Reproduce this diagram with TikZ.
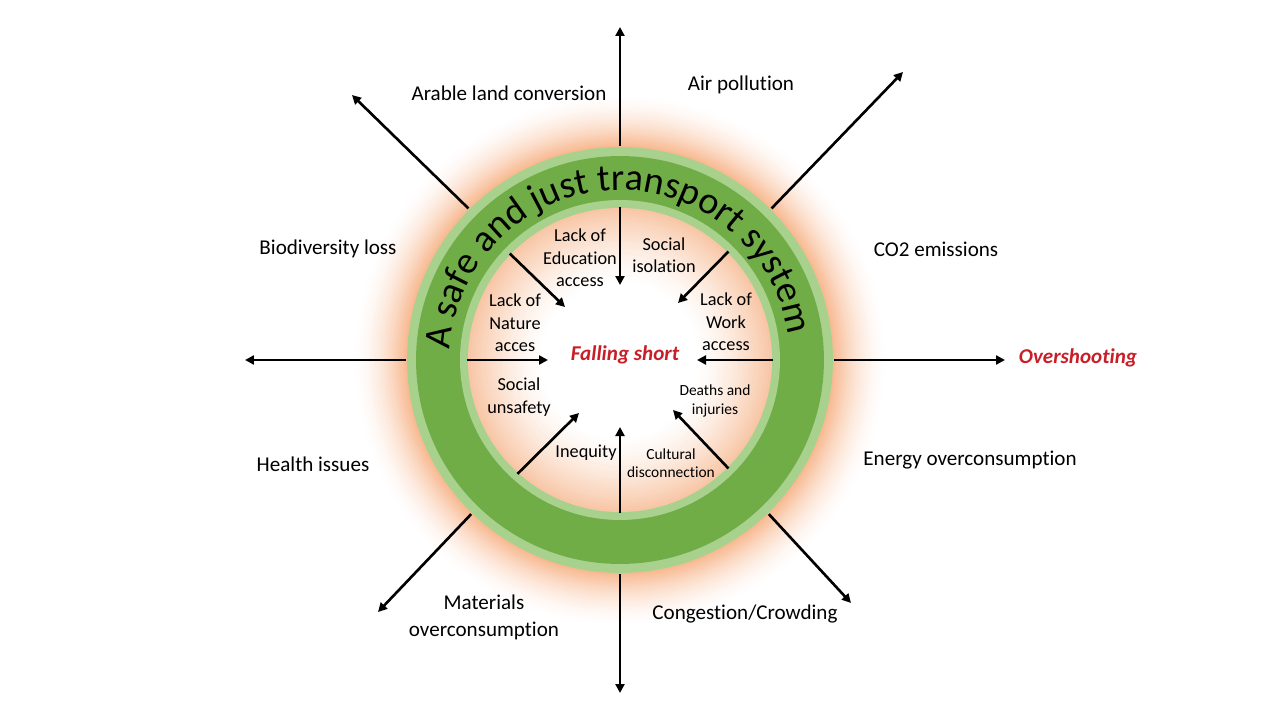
\documentclass[tikz,border=0pt]{standalone}
\usepackage{fontspec}
\setmainfont{Carlito}[Ligatures=NoCommon]
\usepackage{xcolor}
\usepackage{tikz}
\usetikzlibrary{arrows.meta,decorations.text}
\definecolor{ringdark}{RGB}{112,173,71}
\definecolor{ringlight}{RGB}{169,209,142}
\definecolor{glow}{RGB}{248,186,146}
\definecolor{disc}{RGB}{248,198,166}
\definecolor{shortred}{RGB}{200,30,40}

\begin{document}
\begin{tikzpicture}[x=0.02cm, y=0.02cm, >={Triangle[length=1.8mm, width=1.8mm]}, line width=1.5pt,
  outl/.style={font=\fontsize{12}{15.4}\selectfont, align=center},
  inl/.style={font=\fontsize{10.4}{12.8}\selectfont, align=center},
  smalll/.style={font=\fontsize{8.8}{10.4}\selectfont, align=center},
  redl/.style={font=\fontsize{12}{14}\selectfont\bfseries\itshape, text=shortred},
  rim/.style={circle, inner sep=0pt}]
\useasboundingbox (-620,-360) rectangle (660,360);
%% glow round the ring
\foreach \k in {0,...,29}{
  \pgfmathsetmacro\rr{270-1.9*\k}
  \pgfmathtruncatemacro\pp{100*(\k/29)^1.8}
  \fill[glow!\pp!white] (0,0) circle[radius=\rr];
}
%% ring
\node[rim, fill=ringlight, minimum size=8.52cm] (ring) at (0,0) {};
\node[rim, fill=ringdark, minimum size=8.16cm] (band) at (0,0) {};
\node[rim, fill=ringlight, minimum size=6.4cm] (inner) at (0,0) {};
\foreach \k in {0,...,29}{
  \pgfmathsetmacro\rr{152-2.6*\k}
  \pgfmathtruncatemacro\pp{100*(1-\k/29)^1.4}
  \fill[disc!\pp!white] (0,0) circle[radius=\rr];
}
\node[rim, minimum size=6.08cm] (core) at (0,0) {};
\path[decorate, decoration={text along path, text align=center,
  text={|\fontsize{21.7}{24}\selectfont|A safe and just transport system}}]
  (185.5:170) arc[start angle=185.5, end angle=-0.5, radius=170];
%% outer arrows
\coordinate (tipN) at (0,333);
\coordinate (tipNE) at (283,288);
\coordinate (tipE) at (385,0);
\coordinate (tipSE) at (231,-243);
\coordinate (tipS) at (0,-333);
\coordinate (tipSW) at (-242,-252);
\coordinate (tipW) at (-375,0);
\coordinate (tipNW) at (-268,265);
\draw[->] (ring.90) -- (tipN);
\draw[->] (ring.45) -- (tipNE);
\draw[->] (ring.0) -- (tipE);
\draw[->] (ring.-46) -- (tipSE);
\draw[->] (ring.-90) -- (tipS);
\draw[->] (ring.-134) -- (tipSW);
\draw[->] (ring.180) -- (tipW);
\draw[->] (ring.135) -- (tipNW);
%% inner arrows
\coordinate (hubN) at (0,75);
\coordinate (hubNE) at (58,57);
\coordinate (hubE) at (77,0);
\coordinate (hubSE) at (53,-50);
\coordinate (hubS) at (0,-67);
\coordinate (hubSW) at (-41,-53);
\coordinate (hubW) at (-72,0);
\coordinate (hubNW) at (-55,53);
\draw[->] (core.90) -- (hubN);
\draw[->] (core.45) -- (hubNE);
\draw[->] (core.0) -- (hubE);
\draw[->] (core.-45) -- (hubSE);
\draw[->] (core.-90) -- (hubS);
\draw[->] (core.-132) -- (hubSW);
\draw[->] (core.180) -- (hubW);
\draw[->] (core.136) -- (hubNW);
%% outer labels
\node[outl] (arable) at (-111,267) {Arable land conversion};
\node[outl] (air) at (121,275) {Air pollution};
\node[outl] (co2) at (316,111) {CO2 emissions};
\node[redl] (over) at (458,2) {Overshooting};
\node[outl] (energy) at (350,-100) {Energy overconsumption};
\node[outl] (congest) at (125,-254) {Congestion/Crowding};
\node[outl] (materials) at (-136,-257) {Materials\\overconsumption};
\node[outl] (health) at (-307,-104) {Health issues};
\node[outl] (biodiv) at (-292,111) {Biodiversity loss};
%% inner labels
\node[inl] (educ) at (-40,102) {Lack of\\Education\\access};
\node[inl] (isol) at (44,105) {Social\\isolation};
\node[inl] (nature) at (-105,37) {Lack of\\Nature\\acces};
\node[inl] (work) at (106,38) {Lack of\\Work\\access};
\node[redl] (falling) at (5,5) {Falling short};
\node[inl] (unsafe) at (-101,-37) {Social\\unsafety};
\node[smalll] (deaths) at (95,-41) {Deaths and\\injuries};
\node[inl] (ineq) at (-34,-93) {Inequity};
\node[smalll] (cultural) at (51,-103) {Cultural\\disconnection};
\end{tikzpicture}
\end{document}
